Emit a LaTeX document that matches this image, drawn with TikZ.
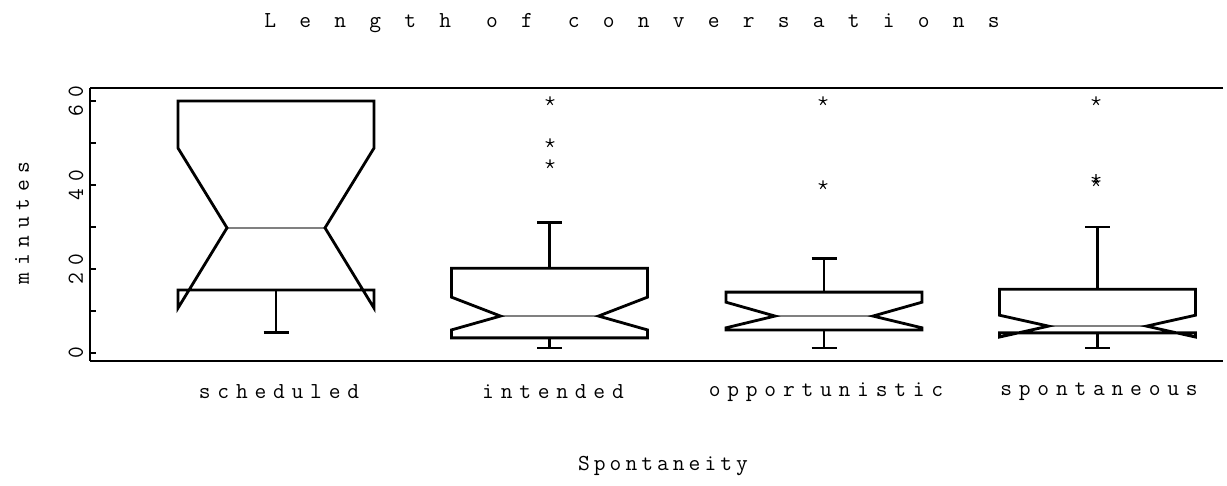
\documentclass[tikz,border=0pt]{standalone}
\usepackage{fontspec}
\usepackage{xcolor}
\usetikzlibrary{plotmarks}
\newfontfamily\plotfont[LetterSpace = 29.7]{Latin Modern Mono}
\newfontfamily\axisfont[LetterSpace = 17.7]{Latin Modern Mono}
\newfontfamily\titlefont[LetterSpace = 101.7]{Latin Modern Mono}
\colorlet{MedianGrey}{black!50}

\begin{document}
\begin{tikzpicture}[x = 0.02cm, y = -0.02cm]
    \useasboundingbox (0,0) rectangle (1227,485);

    \coordinate (TL) at (  90,  88);
    \coordinate (TR) at (1223,  88);
    \coordinate (BL) at (  90, 361);
    \coordinate (BR) at (1223, 361);

    \draw[line width = 1.6pt]
        (TR) -- (TL)
        (TL) -- (BL)
        (BL) -- (BR)
    ;

    \begin{scope}[
        shift = {(0,353)},
        y     = 0.084cm,
        box/.style = {
            line width = 1.6pt,
            line join  = miter,
        },
        median/.style = {
            line width = 1.2pt,
            draw       = MedianGrey,
        },
        every node/.style = {
            font = \plotfont\fontsize{13}{15}\selectfont,
        }
    ]
        % axis ticks and labels
        \foreach \v in {0,10,...,60}
            \draw[line width = 1.4pt] (90,\v) -- (96,\v);
        \foreach \v in {0,20,40,60}
            \node (tick\v) at (76,\v) [rotate = 90] {\v};

        % notched boxes
        \foreach \c/\lw/\qa/\lo/\md/\hi/\qb/\uw in {
            276/4.8/15/10.7/29.8/48.8/60/60,
            549.5/1.2/3.6/5.5/8.8/13.3/20.2/31,
            824/1.2/5.5/6/8.8/12.1/14.5/22.6,
            1097.5/1.2/4.8/3.8/6.4/9/15.2/30%
        }{
            \draw[median] (\c-49,\md) -- (\c+49,\md);
            \draw[box]
                (\c-98,\qa) -- (\c-98,\lo) -- (\c-49,\md) -- (\c-98,\hi)
                -- (\c-98,\qb) -- (\c+98,\qb) -- (\c+98,\hi) -- (\c+49,\md)
                -- (\c+98,\lo) -- (\c+98,\qa) -- cycle
                (\c-98,\qa) -- (\c+98,\qa)
            ;
            \draw[box]
                (\c,\qa) -- (\c,\lw)
                (\c-12.5,\lw) -- (\c+12.5,\lw)
                (\c,\qb) -- (\c,\uw)
                (\c-12.5,\uw) -- (\c+12.5,\uw)
            ;
        }

        % outliers
        \foreach \x/\v in {550/60, 550/50, 550/45, 823/60, 823/40, 1096/60, 1096/41.5, 1096/40.7}
            \draw plot[only marks, mark = star, mark size = 2.6pt, mark options = {line width = 0.6pt}]
                coordinates {(\x,\v)};
    \end{scope}

    \begin{scope}[
        every node/.style = {
            font = \plotfont\fontsize{13}{15}\selectfont,
        }
    ]
        \node (minutes)  at (  22, 223) [rotate = 90] {minutes};
        \node (sched)    at ( 279, 392) {scheduled};
        \node (intend)   at ( 553, 392) {intended};
        \node (opport)   at ( 826, 392) {opportunistic};
        \node (spont)    at (1099, 392) {spontaneous};
        \node (spontity) at ( 663, 466) [font = \axisfont\fontsize{13}{15}\selectfont] {Spontaneity};
        \node (title)    at ( 632,  23) [font = \titlefont\fontsize{13}{15}\selectfont] {Length of conversations};
    \end{scope}
\end{tikzpicture}
\end{document}
